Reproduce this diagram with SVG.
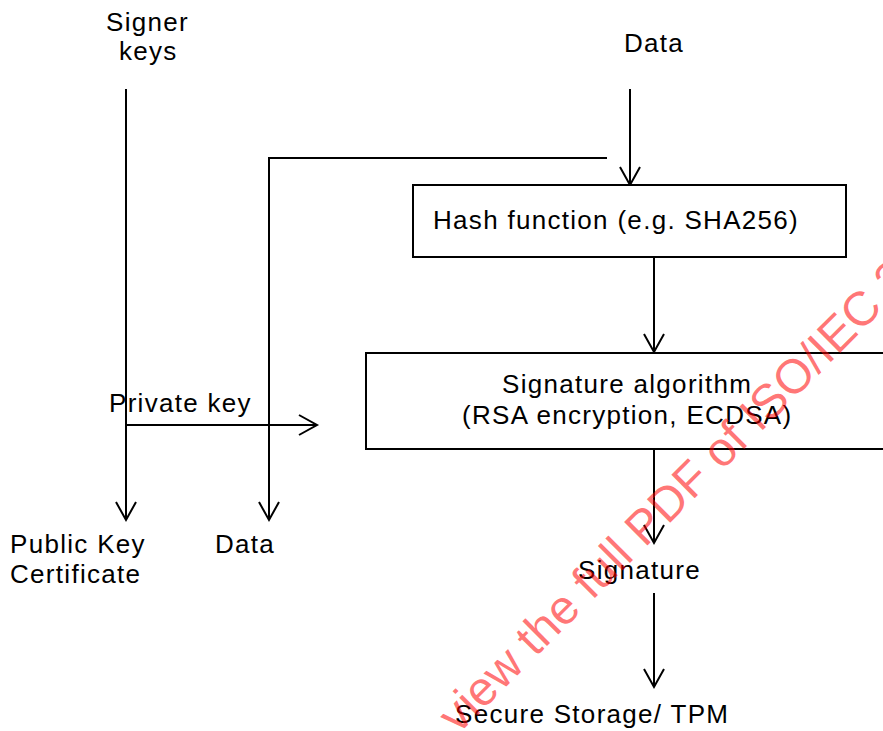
<svg xmlns="http://www.w3.org/2000/svg" width="883" height="731" viewBox="0 0 883 731">
<style>
.t{font-family:"Liberation Sans",Arial,sans-serif;font-size:26px;letter-spacing:1.3px;fill:#000}
.box{fill:#fff;stroke:#000;stroke-width:2}
.c{fill:none;stroke:#000;stroke-width:2}
.wm{font-family:"Liberation Sans",Arial,sans-serif;font-size:48px;fill:#ff0000;fill-opacity:0.55}
</style>
<defs>
<marker id="arr" markerUnits="userSpaceOnUse" markerWidth="24" markerHeight="24" viewBox="-20 -12 24 24" refX="0" refY="0" orient="auto" overflow="visible">
<path d="M-18,-10 L0,0 L-18,10" fill="none" stroke="#000" stroke-width="2"/>
</marker>
</defs>
<rect width="883" height="731" fill="#fff"/>
<g id="connectors">
<path class="c" d="M126 89 V520" marker-end="url(#arr)"/>
<path class="c" d="M126 425 H317" marker-end="url(#arr)"/>
<path class="c" d="M607 158 H269 V520" marker-end="url(#arr)"/>
<path class="c" d="M630 89 V185" marker-end="url(#arr)"/>
<path class="c" d="M654 257 V352" marker-end="url(#arr)"/>
<path class="c" d="M654 449 V543" marker-end="url(#arr)"/>
<path class="c" d="M654 593 V687" marker-end="url(#arr)"/>
</g>
<g id="signer-keys"><text class="t" x="106" y="31">Signer</text><text class="t" x="119" y="60">keys</text></g>
<g id="data-in"><text class="t" x="624" y="52">Data</text></g>
<g id="hash"><rect class="box" x="413" y="185" width="433" height="72"/><text class="t" x="433" y="229">Hash function (e.g. SHA256)</text></g>
<g id="sigalg"><rect class="box" x="366" y="353" width="540" height="96"/><text class="t" x="502" y="393">Signature algorithm</text><text class="t" x="462" y="424">(RSA encryption, ECDSA)</text></g>
<g id="private-key"><text class="t" x="109" y="412">Private key</text></g>
<g id="pkc"><text class="t" x="10" y="553">Public Key</text><text class="t" x="10" y="583">Certificate</text></g>
<g id="data-out"><text class="t" x="215" y="553">Data</text></g>
<g id="signature"><text class="t" x="578" y="579">Signature</text></g>
<g id="storage"><text class="t" x="455" y="723">Secure Storage/ TPM</text></g>
<text class="wm" transform="translate(458 735) rotate(-45)">view the full PDF of ISO/IEC 3</text>
</svg>
